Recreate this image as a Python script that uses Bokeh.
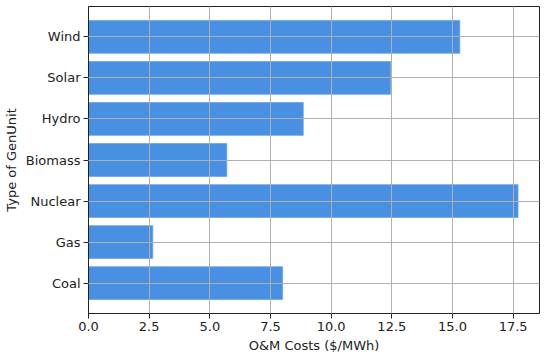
from bokeh.plotting import figure
from bokeh.models import Range1d, FixedTicker, NumeralTickFormatter
from bokeh.embed import file_html
from bokeh.resources import INLINE

categories = ["Coal", "Gas", "Nuclear", "Biomass", "Hydro", "Solar", "Wind"]
costs = [8.0, 2.65, 17.7, 5.7, 8.85, 12.45, 15.3]
x_ticks = [0, 2.5, 5, 7.5, 10, 12.5, 15, 17.5]

positions = list(range(len(categories)))

p = figure(
    y_range=Range1d(-0.74, len(categories) - 1 + 0.74),
    x_range=Range1d(0, 18.585),
    width=546, height=357,
    min_border_left=88, min_border_top=6, min_border_right=7, min_border_bottom=44,
    output_backend="svg", toolbar_location=None,
)
p.hbar(y=positions, right=costs, left=0, height=0.8,
       fill_color="#4a90e2", line_color="#6aa4e8", line_width=0.8)

font = "DejaVu Sans"
p.xaxis.ticker = FixedTicker(ticks=x_ticks)
p.xaxis.formatter = NumeralTickFormatter(format="0.0")
p.yaxis.ticker = FixedTicker(ticks=positions)
p.yaxis.major_label_overrides = {i: c for i, c in zip(positions, categories)}
p.xaxis.axis_label = "O&M Costs ($/MWh)"
p.yaxis.axis_label = "Type of GenUnit"
for ax in (p.xaxis, p.yaxis):
    ax.axis_label_text_font = font
    ax.axis_label_text_font_style = "normal"
    ax.axis_label_text_font_size = "13px"
    ax.axis_label_text_color = "#222222"
    ax.major_label_text_font = font
    ax.major_label_text_font_size = "13px"
    ax.major_label_text_color = "#222222"
    ax.axis_line_color = "#222222"
    ax.major_tick_line_color = "#222222"
    ax.major_tick_out = 5
    ax.major_tick_in = 0
    ax.minor_tick_line_color = None
    ax.major_label_standoff = 3
    ax.axis_label_standoff = 4

for g in (p.xgrid, p.ygrid):
    g.grid_line_color = "#b0b0b0"
    g.grid_line_width = 1
    g.level = "overlay"

p.outline_line_color = "#222222"
p.outline_line_width = 1
p.background_fill_color = "white"
p.border_fill_color = "white"

open("out.html", "w").write(file_html(p, INLINE))
